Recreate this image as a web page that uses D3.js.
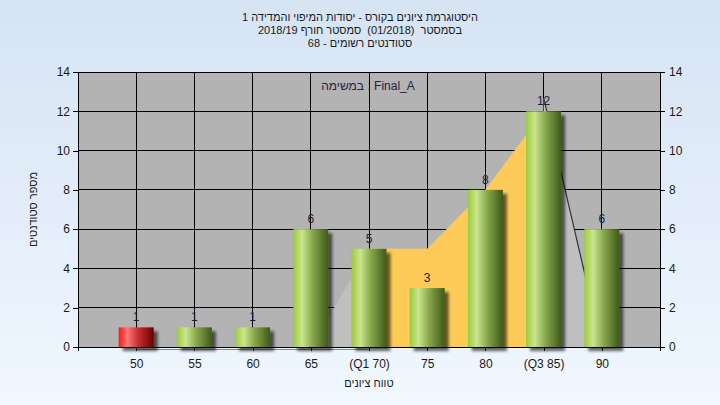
<!DOCTYPE html>
<html><head><meta charset="utf-8">
<script src="https://cdn.jsdelivr.net/npm/d3@7"></script>
<style>html,body{margin:0;padding:0;overflow:hidden;}svg{display:block;}</style>
</head><body>
<script>
// ---- data ----
const categories = ["50","55","60","65","(Q1 70)","75","80","(Q3 85)","90"];
const counts = [1,1,1,6,5,3,8,12,6];
const barKinds = ["fail","pass","pass","pass","pass","pass","pass","pass","pass"];
const yTicks = [0,2,4,6,8,10,12,14];
const iqrCats = [4,5,6,7];
const iqrValues = [5,5,8,12];
const lowWhiskerCats = [3,4];
const lowWhiskerValues = [0,5];
const highWhiskerCats = [7,8];
const highWhiskerValues = [12.7,0];
const titleLine1 = "היסטוגרמת ציונים בקורס - יסודות המיפוי והמדידה 1";
const titleLine2 = "בסמסטר  (01/2018)  סמסטר חורף 2018/19";
const titleLine3 = "סטודנטים רשומים - 68";
const yTitle = "מספר סטודנטים";
const xTitle = "טווח ציונים";
const innerLabel = "במשימה : Final_A";

(function(){
const W = 720, H = 405;
const svg = d3.select("body").append("svg").attr("width", W).attr("height", H);
const defs = svg.append("defs");
const bg = defs.append("linearGradient").attr("id","bg").attr("x1",0).attr("y1",0).attr("x2",0).attr("y2",1);
bg.append("stop").attr("offset","0%").attr("stop-color","#d5e3f3");
bg.append("stop").attr("offset","100%").attr("stop-color","#f0f7ff");
function barGrad(id, stops){
  const g = defs.append("linearGradient").attr("id",id).attr("x1",0).attr("y1",0).attr("x2",1).attr("y2",0);
  stops.forEach(s=>g.append("stop").attr("offset",s[0]).attr("stop-color",s[1]));
}
barGrad("gPass", [["0%","#9acb3c"],["25%","#cbe58e"],["55%","#88a84c"],["100%","#3e5a18"]]);
barGrad("gFail", [["0%","#ff1414"],["25%","#ff7878"],["55%","#cc3030"],["100%","#6a0000"]]);
const f = defs.append("filter").attr("id","shadow").attr("x","-20%").attr("y","-20%").attr("width","160%").attr("height","160%");
f.append("feDropShadow").attr("dx",4).attr("dy",4).attr("stdDeviation",1.8).attr("flood-color","#000").attr("flood-opacity",0.6);

svg.append("rect").attr("width",W).attr("height",H).attr("fill","url(#bg)");

const pL = 78, pR = 660, pT = 72, pB = 347;
const x = d3.scaleLinear().domain([0, categories.length + 1]).range([pL, pR]);
const y = d3.scaleLinear().domain([0, 14]).range([pB, pT]);
const cx = i => x(i + 1);
const barW = 35;

const font = "'Liberation Sans', Arial, sans-serif";

svg.append("rect").attr("x",pL).attr("y",pT).attr("width",pR-pL).attr("height",pB-pT).attr("fill","#b3b3b3");

const grid = svg.append("g").attr("stroke","#000").attr("stroke-width",1).attr("shape-rendering","crispEdges");
yTicks.forEach(t=>grid.append("line").attr("x1",pL).attr("x2",pR).attr("y1",y(t)).attr("y2",y(t)));
categories.forEach((c,i)=>grid.append("line").attr("x1",cx(i)).attr("x2",cx(i)).attr("y1",pT).attr("y2",pB));

const area = d3.area().x(d=>cx(d[0])).y0(y(0)).y1(d=>y(d[1]));
svg.append("path").datum(lowWhiskerCats.map((c,i)=>[c,lowWhiskerValues[i]])).attr("d",area).attr("fill","#bfbfbf");
svg.append("path").datum(highWhiskerCats.map((c,i)=>[c,highWhiskerValues[i]])).attr("d",area).attr("fill","#bfbfbf");
svg.append("path").datum(highWhiskerCats.map((c,i)=>[c,highWhiskerValues[i]]))
  .attr("d",d3.line().x(d=>cx(d[0])).y(d=>y(d[1]))).attr("stroke","#333").attr("stroke-width",1.2).attr("fill","none");
svg.append("path").datum(iqrCats.map((c,i)=>[c,iqrValues[i]])).attr("d",area).attr("fill","#fecb58");

const yAxisL = d3.axisLeft(y).tickValues(yTicks).tickSize(5).tickPadding(3);
const yAxisR = d3.axisRight(y).tickValues(yTicks).tickSize(5).tickPadding(4);
const gL = svg.append("g").attr("transform",`translate(${pL},0)`).call(yAxisL);
const gR = svg.append("g").attr("transform",`translate(${pR},0)`).call(yAxisR);
[gL,gR].forEach(g=>{
  g.select(".domain").remove();
  g.selectAll("line").attr("stroke","#000").attr("shape-rendering","crispEdges");
  g.selectAll("text").attr("font-family",font).attr("font-size",12).attr("fill","#1a1a1a");
});
const axisLines = svg.append("g").attr("stroke","#000").attr("shape-rendering","crispEdges");
axisLines.append("line").attr("x1",pL).attr("x2",pL).attr("y1",pT).attr("y2",pB+4);
axisLines.append("line").attr("x1",pR).attr("x2",pR).attr("y1",pT).attr("y2",pB+4);
axisLines.append("line").attr("x1",pL).attr("x2",pR).attr("y1",pB).attr("y2",pB);
svg.append("line").attr("x1",cx(0)).attr("x2",cx(4)).attr("y1",pB+2.5).attr("y2",pB+2.5)
  .attr("stroke","#8a8a8a").attr("stroke-width",1);

const xAxis = d3.axisBottom(x).tickValues(categories.map((c,i)=>i+1)).tickFormat((d)=>categories[d-1]).tickSize(4).tickPadding(8);
const gB = svg.append("g").attr("transform",`translate(0,${pB})`).call(xAxis);
gB.select(".domain").remove();
gB.selectAll("line").attr("stroke","#000").attr("shape-rendering","crispEdges");
gB.selectAll("text").attr("font-family",font).attr("font-size",12).attr("fill","#1a1a1a");

svg.append("g").selectAll("rect").data(counts).join("rect")
  .attr("x",(d,i)=>cx(i)-barW/2).attr("width",barW)
  .attr("y",d=>y(d)).attr("height",d=>y(0)-y(d))
  .attr("fill",(d,i)=>barKinds[i]==="fail"?"url(#gFail)":"url(#gPass)")
  .attr("filter","url(#shadow)");

svg.append("g").selectAll("text").data(counts).join("text")
  .attr("x",(d,i)=>cx(i)).attr("y",d=>y(d)-6)
  .attr("text-anchor","middle").attr("font-family",font).attr("font-size",12).attr("fill","#1c1c40")
  .text(d=>d);

const tTitle = svg.append("g").attr("font-family",font).attr("font-size",11).attr("fill","#1a1a1a").attr("text-anchor","middle");
tTitle.append("text").attr("x",360).attr("y",21).attr("direction","rtl").text(titleLine1);
tTitle.append("text").attr("x",360).attr("y",34).attr("direction","rtl").style("white-space","pre").text(titleLine2);
tTitle.append("text").attr("x",360).attr("y",47).attr("direction","rtl").text(titleLine3);

svg.append("text").attr("transform",`translate(37,${(pT+pB)/2}) rotate(-90)`)
  .attr("text-anchor","middle").attr("font-family",font).attr("font-size",11).attr("fill","#1a1a1a")
  .attr("direction","rtl").text(yTitle);
svg.append("text").attr("x",(pL+pR)/2).attr("y",387)
  .attr("text-anchor","middle").attr("font-family",font).attr("font-size",11).attr("fill","#1a1a1a")
  .attr("direction","rtl").text(xTitle);
svg.append("text").attr("x",368).attr("y",90)
  .attr("text-anchor","middle").attr("font-family",font).attr("font-size",12).attr("fill","#2a2040")
  .attr("direction","ltr").text(innerLabel);
})();
</script>
</body></html>
